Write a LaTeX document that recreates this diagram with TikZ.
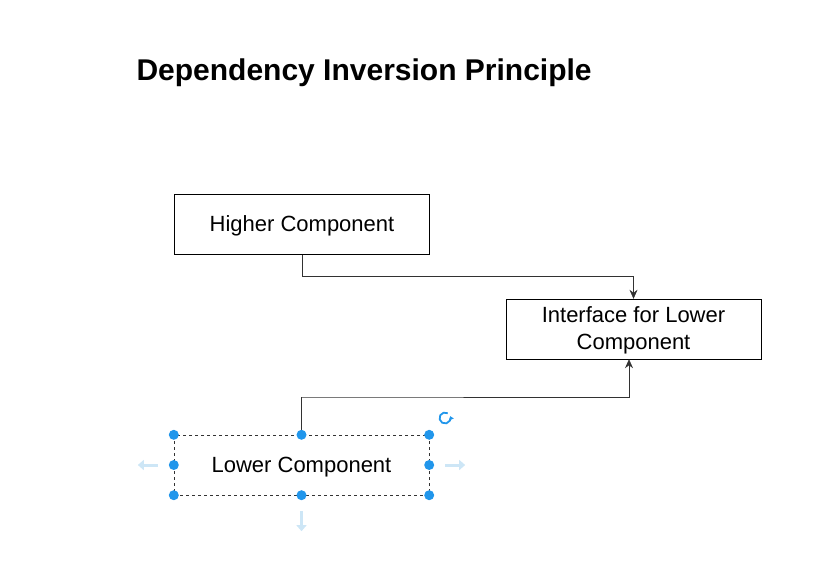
\documentclass[tikz,border=0pt]{standalone}
\usepackage{fontspec}
\setmainfont{Liberation Sans}
\usetikzlibrary{arrows.meta,positioning}
\definecolor{handleblue}{RGB}{33,150,235}
\definecolor{hintblue}{RGB}{205,230,246}
\definecolor{linegray}{RGB}{50,50,50}
\begin{document}
\begin{tikzpicture}[x=1pt,y=-1pt, every node/.style={font=\fontsize{22}{27}\selectfont}, box/.style={draw,inner sep=0pt,align=center,minimum width=255pt,minimum height=60pt,text depth=1pt}, arr/.style={-{Stealth[length=9pt,width=8pt]},linegray,semithick}, handle/.style={circle,fill=handleblue,inner sep=0pt,minimum size=10pt}, hint/.style={-{Triangle[length=6pt,width=10pt]},hintblue,line width=3pt}]
\useasboundingbox (0,0) rectangle (837,565);
\node[font=\fontsize{30}{36}\bfseries,anchor=base west] (title) at (133,80) {Dependency Inversion Principle};
\node[box] (higher) at (302,224.5) {Higher Component};
\node[box] (iface) at (633.5,329) {Interface for Lower\\Component};
\node[box,dashed,draw=black!80] (lower) at (301.5,465) {Lower Component};
\coordinate (bend1) at (302,276); \coordinate (bend2) at (301,397); \coordinate (ifaceIn) at ([xshift=-4.5pt]iface.south);
\draw[arr] (higher.south) |- (bend1) -| (iface.north);
\draw[arr] (lower.north) |- (bend2) -| (ifaceIn);
% selection handles
\foreach \a in {north west,north,north east,west,east,south west,south,south east} \node[handle] at (lower.\a) {};
\draw[hint] ([xshift=-16pt]lower.west) -- ++(-20,0);
\draw[hint] ([xshift=16pt]lower.east) -- ++(20,0);
\draw[hint] ([yshift=-16pt]lower.south) -- ++(0,20);
\draw[handleblue,line width=1.8pt,-{Triangle[length=3.5pt,width=5pt]}] (445,418) ++(60:5.5pt) arc[start angle=60,end angle=380,radius=5.5pt];
\end{tikzpicture}
\end{document}
